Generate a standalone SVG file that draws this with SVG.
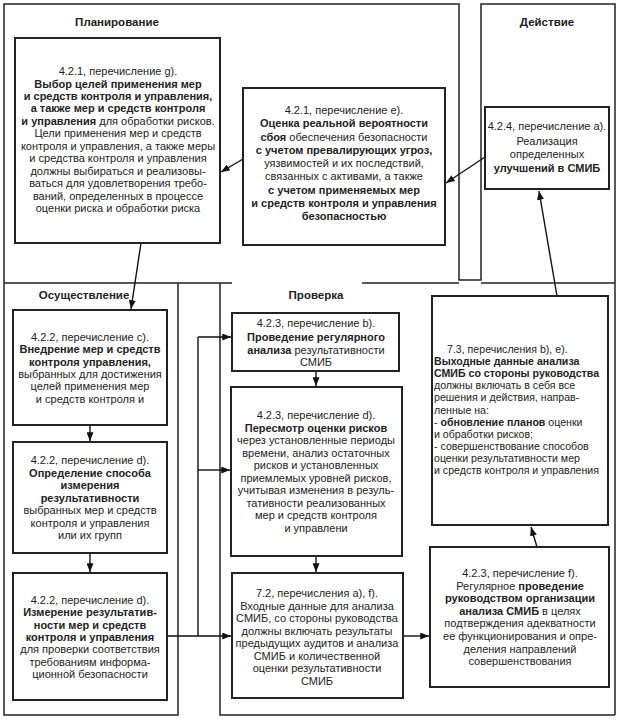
<svg xmlns="http://www.w3.org/2000/svg" width="620" height="722" viewBox="0 0 620 722">
<defs>
<marker id="ah" viewBox="0 0 10 8" refX="10" refY="4" markerWidth="9" markerHeight="7" markerUnits="userSpaceOnUse" orient="auto">
<path d="M0,0 L10,4 L0,8 z" fill="#111"/>
</marker>
<style>
.fr{fill:none;stroke:#222;stroke-width:1.5}
.bx{fill:#fff;stroke:#222;stroke-width:2}
text{font-family:"Liberation Sans",Arial,sans-serif;font-size:11px;fill:#222}
.c{text-anchor:middle}
.b{font-weight:bold}
.t{font-weight:bold;font-size:11.5px}
.s{font-size:10.6px}
.cn{fill:none;stroke:#111;stroke-width:1.4}
</style>
</defs>
<rect width="620" height="722" fill="#fff"/>
<g id="frames">
<path class="fr" d="M4,283 L4,4 L459,4 L459,280 L481,280 L481,4 L615,4 L615,715"/>
<path class="fr" d="M4,283 L232,283 M362,283 L459,283 M481,283 L615,283"/>
<path class="fr" d="M4,283 L4,715 L178,715 L178,283"/>
<path class="fr" d="M220,283 L220,715 L615,715"/>
<text class="t c" x="117" y="26">Планирование</text>
<text class="t c" x="547" y="26">Действие</text>
<text class="t c" x="84" y="299">Осуществление</text>
<text class="t c" x="316" y="299">Проверка</text>
</g>
<g id="connectors">
<line class="cn" x1="141" y1="243" x2="131" y2="309" marker-end="url(#ah)"/>
<line class="cn" x1="243" y1="159" x2="221" y2="172" marker-end="url(#ah)"/>
<line class="cn" x1="485" y1="157" x2="446" y2="183" marker-end="url(#ah)"/>
<line class="cn" x1="90" y1="425" x2="90" y2="441" marker-end="url(#ah)"/>
<line class="cn" x1="90" y1="553" x2="90" y2="572" marker-end="url(#ah)"/>
<path class="cn" d="M167,636 L198,636 M198,337 L198,636"/>
<line class="cn" x1="198" y1="337" x2="231" y2="337" marker-end="url(#ah)"/>
<line class="cn" x1="198" y1="470" x2="230" y2="470" marker-end="url(#ah)"/>
<line class="cn" x1="198" y1="636" x2="231" y2="636" marker-end="url(#ah)"/>
<line class="cn" x1="316" y1="371" x2="316" y2="386" marker-end="url(#ah)"/>
<line class="cn" x1="316" y1="556" x2="316" y2="572" marker-end="url(#ah)"/>
<line class="cn" x1="403" y1="636" x2="429" y2="636" marker-end="url(#ah)"/>
<line class="cn" x1="537" y1="547" x2="531" y2="527" marker-end="url(#ah)"/>
<line class="cn" x1="557" y1="296" x2="539" y2="191" marker-end="url(#ah)"/>
</g>
<g id="n-plan-g">
<rect class="bx" x="15" y="38" width="205" height="205"/>
<text class="c" x="118" y="75">4.2.1, перечисление g).</text>
<text class="c b" x="118" y="87.5">Выбор целей применения мер</text>
<text class="c b" x="118" y="100">и средств контроля и управления,</text>
<text class="c b" x="118" y="112.4">а также мер и средств контроля</text>
<text class="c" x="118" y="124.8"><tspan class="b">и управления</tspan> для обработки рисков.</text>
<text class="c" x="118" y="137.3">Цели применения мер и средств</text>
<text class="c" x="118" y="149.7">контроля и управления, а также меры</text>
<text class="c" x="118" y="162.2">и средства контроля и управления</text>
<text class="c" x="118" y="174.6">должны выбираться и реализовы-</text>
<text class="c" x="118" y="187.1">ваться для удовлетворения требо-</text>
<text class="c" x="118" y="199.5">ваний, определенных в процессе</text>
<text class="c" x="118" y="212">оценки риска и обработки риска</text>
</g>
<g id="n-plan-e">
<rect class="bx" x="243" y="88" width="202" height="157"/>
<text class="c" x="344" y="114">4.2.1, перечисление e).</text>
<text class="c b" x="344" y="127.2">Оценка реальной вероятности</text>
<text class="c" x="344" y="140.5"><tspan class="b">сбоя</tspan> обеспечения безопасности</text>
<text class="c b" x="344" y="153.7">с учетом превалирующих угроз,</text>
<text class="c" x="344" y="167">уязвимостей и их последствий,</text>
<text class="c" x="344" y="180.2">связанных с активами, а также</text>
<text class="c b" x="344" y="193.5">с учетом применяемых мер</text>
<text class="c b" x="344" y="206.7">и средств контроля и управления</text>
<text class="c b" x="344" y="220">безопасностью</text>
</g>
<g id="n-act-a">
<rect class="bx" x="485" y="107" width="124" height="82"/>
<text class="c" x="547" y="130">4.2.4, перечисление a).</text>
<text class="c" x="547" y="144.5">Реализация</text>
<text class="c" x="547" y="158">определенных</text>
<text class="c b" x="547" y="172">улучшений в СМИБ</text>
</g>
<g id="n-do-c">
<rect class="bx" x="13" y="310" width="154" height="115"/>
<text class="c" x="90" y="341">4.2.2, перечисление c).</text>
<text class="c b" x="90" y="353.3">Внедрение мер и средств</text>
<text class="c b" x="90" y="365.6">контроля управления,</text>
<text class="c" x="90" y="377.9">выбранных для достижения</text>
<text class="c" x="90" y="390.2">целей применения мер</text>
<text class="c" x="90" y="402.5">и средств контроля и</text>
</g>
<g id="n-do-d1">
<rect class="bx" x="13" y="442" width="154" height="111"/>
<text class="c" x="90" y="464">4.2.2, перечисление d).</text>
<text class="c b" x="90" y="476.5">Определение способа</text>
<text class="c b" x="90" y="489">измерения</text>
<text class="c b" x="90" y="501.5">результативности</text>
<text class="c" x="90" y="514">выбранных мер и средств</text>
<text class="c" x="90" y="526.5">контроля и управления</text>
<text class="c" x="90" y="539">или их групп</text>
</g>
<g id="n-do-d2">
<rect class="bx" x="13" y="573" width="154" height="127"/>
<text class="c" x="90" y="604">4.2.2, перечисление d).</text>
<text class="c b" x="90" y="616.3">Измерение результатив-</text>
<text class="c b" x="90" y="628.6">ности мер и средств</text>
<text class="c b" x="90" y="641">контроля и управления</text>
<text class="c" x="90" y="653.3">для проверки соответствия</text>
<text class="c" x="90" y="665.6">требованиям информа-</text>
<text class="c" x="90" y="678">ционной безопасности</text>
</g>
<g id="n-chk-b">
<rect class="bx" x="232" y="313" width="167" height="58"/>
<text class="c" x="316" y="327">4.2.3, перечисление b).</text>
<text class="c b" x="316" y="340.5">Проведение регулярного</text>
<text class="c" x="316" y="353.5"><tspan class="b">анализа</tspan> результативности</text>
<text class="c" x="316" y="366">СМИБ</text>
</g>
<g id="n-chk-d">
<rect class="bx" x="231" y="387" width="171" height="169"/>
<text class="c" x="316" y="419">4.2.3, перечисление d).</text>
<text class="c b" x="316" y="431.6">Пересмотр оценки рисков</text>
<text class="c" x="316" y="444.1">через установленные периоды</text>
<text class="c" x="316" y="456.7">времени, анализ остаточных</text>
<text class="c" x="316" y="469.2">рисков и установленных</text>
<text class="c" x="316" y="481.8">приемлемых уровней рисков,</text>
<text class="c" x="316" y="494.3">учитывая изменения в резуль-</text>
<text class="c" x="316" y="506.9">тативности реализованных</text>
<text class="c" x="316" y="519.4">мер и средств контроля</text>
<text class="c" x="316" y="532">и управлени</text>
</g>
<g id="n-chk-72">
<rect class="bx" x="232" y="573" width="171" height="125"/>
<text class="c" x="317" y="597">7.2, перечисления a), f).</text>
<text class="c" x="317" y="609.6">Входные данные для анализа</text>
<text class="c" x="317" y="622.1">СМИБ, со стороны руководства</text>
<text class="c" x="317" y="634.7">должны включать результаты</text>
<text class="c" x="317" y="647.3">предыдущих аудитов и анализа</text>
<text class="c" x="317" y="659.9">СМИБ и количественной</text>
<text class="c" x="317" y="672.4">оценки результативности</text>
<text class="c" x="317" y="685">СМИБ</text>
</g>
<g id="n-act-73">
<rect class="bx" x="432" y="296" width="176" height="229"/>
<text class="s" x="447" y="353">7.3, перечисления b), e).</text>
<text class="s b" x="434" y="365.1">Выходные данные анализа</text>
<text class="s b" x="434" y="377.2">СМИБ со стороны руководства</text>
<text class="s" x="434" y="389.3">должны включать в себя все</text>
<text class="s" x="434" y="401.4">решения и действия, направ-</text>
<text class="s" x="434" y="413.5">ленные на:</text>
<text class="s" x="434" y="425.6">- <tspan class="b">обновление планов</tspan> оценки</text>
<text class="s" x="434" y="437.7">и обработки рисков;</text>
<text class="s" x="434" y="449.8">- совершенствование способов</text>
<text class="s" x="434" y="461.9">оценки результативности мер</text>
<text class="s" x="434" y="474">и средств контроля и управления</text>
</g>
<g id="n-chk-f">
<rect class="bx" x="430" y="547" width="179" height="140"/>
<text class="c" x="520" y="577">4.2.3, перечисление f).</text>
<text class="c" x="520" y="589.6">Регулярное <tspan class="b">проведение</tspan></text>
<text class="c b" x="520" y="602.2">руководством организации</text>
<text class="c" x="520" y="614.8"><tspan class="b">анализа СМИБ</tspan> в целях</text>
<text class="c" x="520" y="627.4">подтверждения адекватности</text>
<text class="c" x="520" y="640">ее функционирования и опре-</text>
<text class="c" x="520" y="652.6">деления направлений</text>
<text class="c" x="520" y="665.2">совершенствования</text>
</g>
</svg>
